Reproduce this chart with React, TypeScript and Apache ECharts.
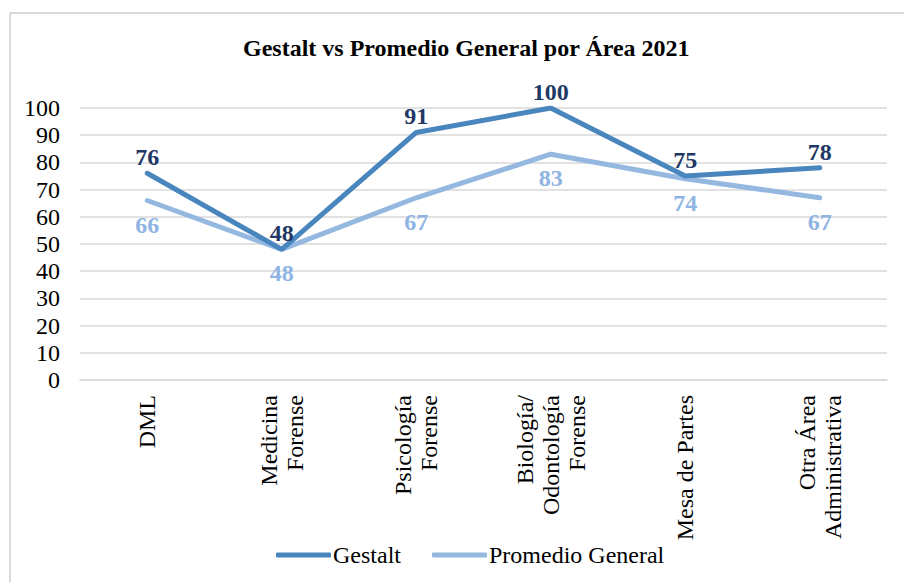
import React, { useEffect, useRef } from "react";
import * as echarts from "echarts";

const categories = [
  "DML",
  "Medicina\nForense",
  "Psicología\nForense",
  "Biología/\nOdontología\nForense",
  "Mesa de Partes",
  "Otra Área\nAdministrativa",
];
const gestalt = [76, 48, 91, 100, 75, 78];
const promedio = [66, 48, 67, 83, 74, 67];
const seriesNames = ["Gestalt", "Promedio General"];

const FONT = "Liberation Serif";

export default function App() {
  const ref = useRef<HTMLDivElement>(null);
  useEffect(() => {
    if (!ref.current) return;
    const chart = echarts.init(ref.current, undefined, { renderer: "svg" });
    chart.setOption({
      animation: false,
      backgroundColor: "#ffffff",
      textStyle: { fontFamily: FONT },
      title: {
        text: "Gestalt vs Promedio General por Área 2021",
        left: 238,
        top: 31,
        textStyle: { fontFamily: FONT, fontSize: 24, fontWeight: "bold", color: "#000" },
      },
      graphic: [
        { type: "line", shape: { x1: 10, y1: 13, x2: 904, y2: 13 }, style: { stroke: "#d9d9d9", lineWidth: 2 } },
        { type: "line", shape: { x1: 10, y1: 13, x2: 10, y2: 582 }, style: { stroke: "#d9d9d9", lineWidth: 2 } },
      ],
      legend: {
        top: 538,
        left: 271,
        itemWidth: 55,
        itemHeight: 5,
        itemGap: 31,
        icon: "roundRect",
        textStyle: { fontFamily: FONT, fontSize: 24, color: "#000", padding: [0, 0, 0, -3] },
        data: seriesNames,
      },
      grid: { left: 80, right: 17, top: 108, bottom: 202, containLabel: false },
      xAxis: {
        type: "category",
        data: categories,
        boundaryGap: true,
        axisLine: { show: true, lineStyle: { color: "#d9d9d9", width: 1.5 } },
        axisTick: { show: false },
        axisLabel: {
          rotate: 90,
          interval: 0,
          margin: 15,
          fontFamily: FONT,
          fontSize: 24,
          color: "#000",
          lineHeight: 26,
        },
      },
      yAxis: {
        type: "value",
        min: 0,
        max: 100,
        interval: 10,
        axisLine: { show: false },
        axisTick: { show: false },
        splitLine: { lineStyle: { color: "#d9d9d9", width: 1.5 } },
        axisLabel: { fontFamily: FONT, fontSize: 24, color: "#000", margin: 20 },
      },
      series: [
        {
          name: seriesNames[0],
          type: "line",
          data: gestalt,
          showSymbol: true,
          symbol: "circle",
          symbolSize: 0.1,
          lineStyle: { color: "#4a86be", width: 5, cap: "round" },
          itemStyle: { color: "#4a86be" },
          label: {
            show: true,
            position: "top",
            distance: 4,
            fontFamily: FONT,
            fontSize: 24,
            fontWeight: "bold",
            color: "#1f3864",
          },
          z: 3,
        },
        {
          name: seriesNames[1],
          type: "line",
          data: promedio,
          showSymbol: true,
          symbol: "circle",
          symbolSize: 0.1,
          lineStyle: { color: "#95b8e1", width: 5, cap: "round" },
          itemStyle: { color: "#95b8e1" },
          label: {
            show: true,
            position: "bottom",
            distance: 12,
            fontFamily: FONT,
            fontSize: 24,
            fontWeight: "bold",
            color: "#8eb4e3",
          },
          z: 2,
        },
      ],
    });
    return () => chart.dispose();
  }, []);
  return (
    <div
      ref={ref}
      style={{ position: "fixed", left: 0, top: 0, width: 904, height: 582 }}
    />
  );
}
